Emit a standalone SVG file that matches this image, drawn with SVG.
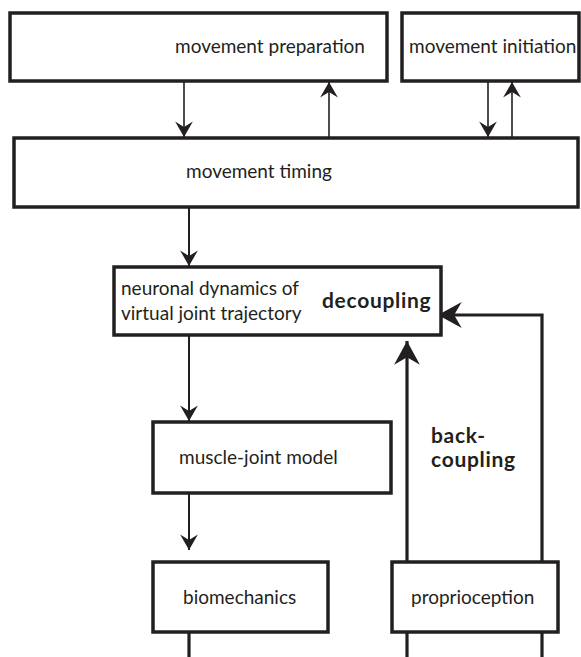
<svg xmlns="http://www.w3.org/2000/svg" width="581" height="657" viewBox="0 0 581 657">
<style>
.box{fill:#fff;stroke:#231f20;stroke-width:3.5}
.t{font-family:Lato,"Open Sans",sans-serif;font-size:19px;fill:#231f20}
.b{font-family:Lato,"Open Sans",sans-serif;font-size:21px;font-weight:bold;letter-spacing:0.7px;fill:#231f20}
.thin{fill:none;stroke:#231f20;stroke-width:1.6}
.mid{fill:none;stroke:#231f20;stroke-width:2}
.thick{fill:none;stroke:#231f20;stroke-width:3.2}
</style>
<defs>
<marker id="ah" markerUnits="userSpaceOnUse" markerWidth="20" markerHeight="20" viewBox="-15 -9 16 18" refX="0" refY="0" orient="auto">
<path d="M0,0 L-14,-8 L-9,0 L-14,8 Z" fill="#231f20"/>
</marker>
<marker id="ahb" markerUnits="userSpaceOnUse" markerWidth="28" markerHeight="28" viewBox="-23 -13 24 26" refX="0" refY="0" orient="auto">
<path d="M0,0 L-22,-12 L-15,0 L-22,12 Z" fill="#231f20"/>
</marker>
</defs>
<g id="connectors">
<line class="thin" x1="184" y1="81" x2="184" y2="137" marker-end="url(#ah)"/>
<line class="thin" x1="329" y1="138" x2="329" y2="82" marker-end="url(#ah)"/>
<line class="thin" x1="488" y1="81" x2="488" y2="137" marker-end="url(#ah)"/>
<line class="thin" x1="512" y1="138" x2="512" y2="82" marker-end="url(#ah)"/>
<line class="mid" x1="189" y1="207" x2="189" y2="266" marker-end="url(#ah)"/>
<line class="mid" x1="189" y1="335" x2="189" y2="421" marker-end="url(#ah)"/>
<line class="mid" x1="189" y1="493" x2="189" y2="550" marker-end="url(#ah)"/>
<line class="thick" x1="407" y1="562" x2="407" y2="341" marker-end="url(#ahb)"/>
<polyline class="thick" points="542,562 542,315 438,315" marker-end="url(#ahb)"/>
<line class="thick" x1="189" y1="632" x2="189" y2="657"/>
<line class="thick" x1="407" y1="632" x2="407" y2="657"/>
<line class="thick" x1="542" y1="632" x2="542" y2="657"/>
</g>
<g id="prep">
<rect class="box" x="10" y="13" width="377" height="68"/>
<text class="t" x="175" y="53">movement preparation</text>
</g>
<g id="init">
<rect class="box" x="402" y="13" width="177" height="68"/>
<text class="t" x="409" y="53">movement initiation</text>
</g>
<g id="timing">
<rect class="box" x="14" y="138" width="564" height="69"/>
<text class="t" x="186" y="178">movement timing</text>
</g>
<g id="neuronal">
<rect class="box" x="114" y="267" width="327" height="68"/>
<text class="t" x="121" y="295">neuronal dynamics of</text>
<text class="t" x="121" y="320">virtual joint trajectory</text>
<text class="b" x="322" y="308">decoupling</text>
</g>
<g id="muscle">
<rect class="box" x="153" y="422" width="238" height="71"/>
<text class="t" x="179" y="464">muscle-joint model</text>
</g>
<g id="biomech">
<rect class="box" x="153" y="562" width="175" height="70"/>
<text class="t" x="183" y="604">biomechanics</text>
</g>
<g id="proprio">
<rect class="box" x="392" y="562" width="166" height="70"/>
<text class="t" x="411" y="604">proprioception</text>
</g>
<g id="backlabel">
<text class="b" x="431" y="443">back-</text>
<text class="b" x="431" y="467">coupling</text>
</g>
</svg>
